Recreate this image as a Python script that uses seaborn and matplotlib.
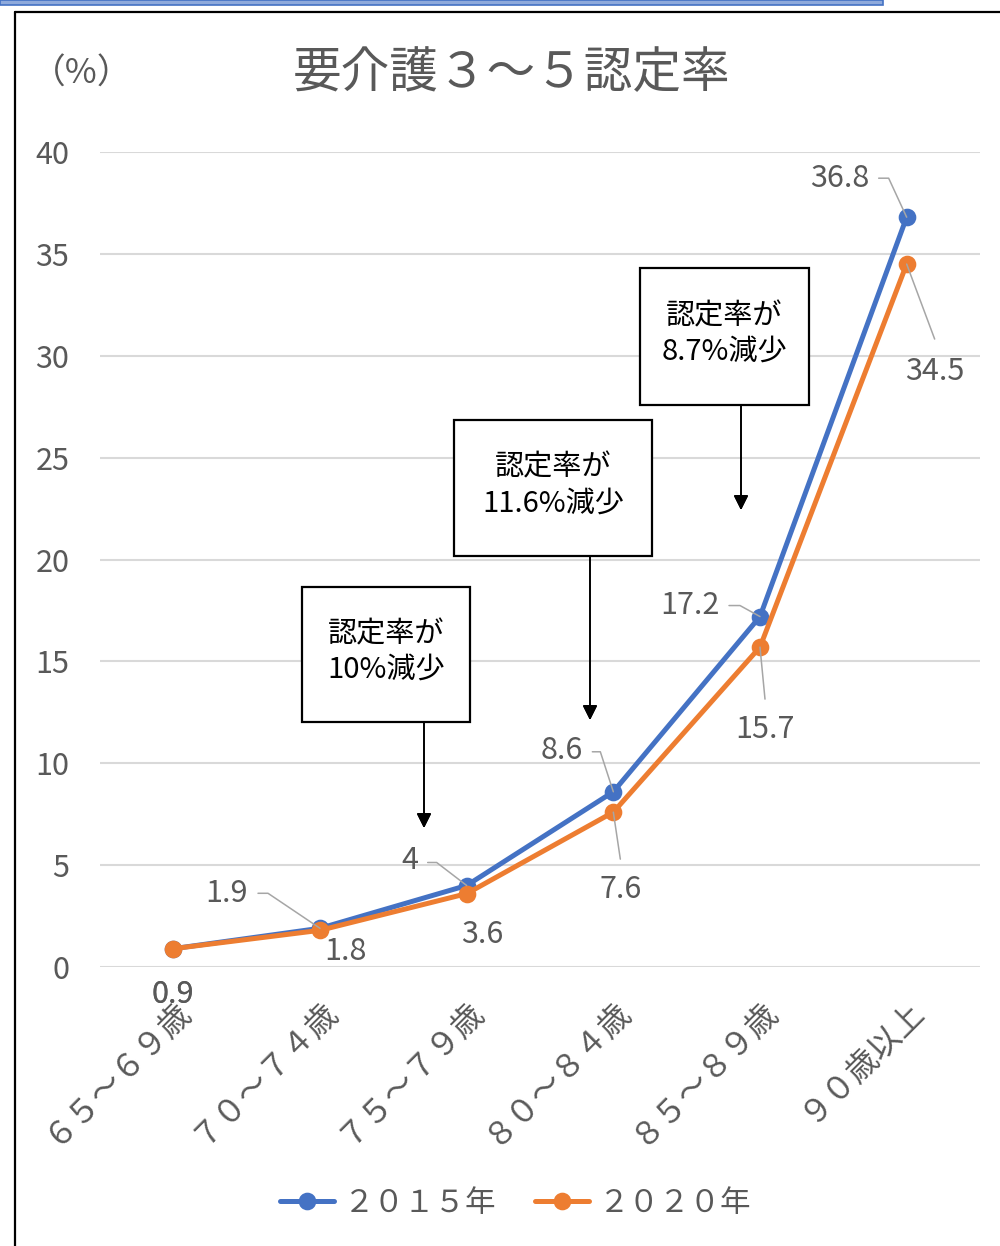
import numpy as np
import pandas as pd
import matplotlib
matplotlib.use('Agg')
import matplotlib.pyplot as plt
import matplotlib.patches as mpatches
import matplotlib.transforms as mtransforms
from matplotlib.lines import Line2D
import seaborn as sns

# data
ages = ['６５～６９歳', '７０～７４歳', '７５～７９歳', '８０～８４歳', '８５～８９歳', '９０歳以上']
years = ['２０１５年', '２０２０年']
rate_2015 = [0.9, 1.9, 4.0, 8.6, 17.2, 36.8]
rate_2020 = [0.9, 1.8, 3.6, 7.6, 15.7, 34.5]
label_2015 = ['0.9', '1.9', '4', '8.6', '17.2', '36.8']
label_2020 = ['0.9', '1.8', '3.6', '7.6', '15.7', '34.5']
y_ticks = [0, 5, 10, 15, 20, 25, 30, 35, 40]
notes = ['認定率が\n10%減少', '認定率が\n11.6%減少', '認定率が\n8.7%減少']

BLUE = '#4472C4'
ORANGE = '#ED7D31'
GRAY = '#595959'
LEAD = '#a6a6a6'
W, H = 1000, 1246

df = pd.DataFrame({
    'age': ages * 2,
    'rate': rate_2015 + rate_2020,
    'year': [years[0]] * len(ages) + [years[1]] * len(ages),
})

sns.set_style('white')
plt.rcParams['font.family'] = ['Noto Sans CJK JP', 'DejaVu Sans']


def fp(x, y):
    # pixel position -> figure fraction
    return x / W, 1 - y / H


fig = plt.figure(figsize=(10, 12.46), dpi=100)
ax = fig.add_axes([0.1, 1 - 967 / H, 0.88, (967 - 152) / H])

sns.pointplot(data=df, x='age', y='rate', hue='year', palette=[BLUE, ORANGE],
              markers='o', linestyles='-', errorbar=None, ax=ax,
              markersize=10, linewidth=3.6)

ax.set_xlim(-0.5, len(ages) - 0.5)
ax.set_ylim(0, 40)
ax.set_yticks(y_ticks)
ax.yaxis.grid(True, color='#d9d9d9', lw=1.5)
ax.xaxis.grid(False)
ax.set_axisbelow(True)
for s in ax.spines.values():
    s.set_visible(False)
ax.set_xlabel('')
ax.set_ylabel('')
ax.tick_params(axis='y', length=0, pad=22, labelsize=22, labelcolor=GRAY)
ax.tick_params(axis='x', length=0, pad=19, labelsize=23, labelcolor=GRAY)
for lbl in ax.get_xticklabels():
    lbl.set_rotation(45)
    lbl.set_ha('right')
    lbl.set_rotation_mode('anchor')

# data labels: text offset from point (pixels, y down) and leader polyline offsets
off_2015 = [(-1, 46), (-93, -35), (-57, -25), (-52, -41), (-70, -11), (-67, -39)]
off_2020 = [(-1, 46), (25, 21), (16, 41), (7, 77), (5, 82), (28, 107)]
lead_2015 = [None, [(-62, -35), (-52, -35), (0, 0)], [(-39, -23), (-30, -23), (0, 0)],
             [(-21, -40), (-13, -40), (0, 0)], [(-31, -11), (-20, -11), (0, 0)],
             [(-28, -39), (-18, -39), (0, 0)]]
lead_2020 = [None, None, None, [(0, 0), (7, 47)], [(0, 0), (5, 52)], [(0, 0), (28, 75)]]

ident = mtransforms.IdentityTransform()
for vals, texts, offs, leads in [(rate_2015, label_2015, off_2015, lead_2015),
                                 (rate_2020, label_2020, off_2020, lead_2020)]:
    for i, (v, t, o, ld) in enumerate(zip(vals, texts, offs, leads)):
        ax.annotate(t, xy=(i, v), xytext=(o[0], -o[1]), textcoords='offset pixels',
                    ha='center', va='center', fontsize=22, color=GRAY, zorder=5)
        if ld:
            px, py = ax.transData.transform((i, v))
            xs = [px + dx for dx, dy in ld]
            ys = [py - dy for dx, dy in ld]
            fig.add_artist(Line2D(xs, ys, transform=ident, color=LEAD, lw=1.1, zorder=4))

# legend
handles, labels = ax.get_legend_handles_labels()
if ax.get_legend() is not None:
    ax.get_legend().remove()
fig.legend(handles, labels, loc='center', bbox_to_anchor=fp(516, 1203), ncol=2,
           frameon=False, fontsize=22, labelcolor=GRAY, handlelength=1.75,
           handletextpad=0.35, columnspacing=1.25)

# title
fig.text(*fp(512, 73), '要介護３～５認定率', ha='center', va='center', fontsize=35, color=GRAY)
fig.text(*fp(82, 74), '（%）', ha='center', va='center', fontsize=25, color=GRAY)

# note boxes with arrows
boxes = [(302, 587, 470, 722), (454, 420, 652, 556), (640, 268, 809, 405)]
arrows = [(424, 708, 828), (590, 542, 720), (741, 390, 510)]
for (x0, y0, x1, y1), txt, (ax_, ay0, ay1) in zip(boxes, notes, arrows):
    fx0, fy1 = fp(x0, y1)
    fx1, fy0 = fp(x1, y0)
    fig.add_artist(mpatches.Rectangle((fx0, fy1), fx1 - fx0, fy0 - fy1, transform=fig.transFigure,
                                      facecolor='white', edgecolor='black', lw=1.6, zorder=6))
    fig.text((fx0 + fx1) / 2, (fy0 + fy1) / 2 + 0.002, txt, ha='center', va='center',
             fontsize=21, color='black', linespacing=1.25, zorder=7)
    fig.add_artist(plt.annotate('', xy=fp(ax_, ay1), xytext=fp(ax_, ay0), xycoords='figure fraction',
                                textcoords='figure fraction',
                                arrowprops=dict(arrowstyle='-|>', color='black', lw=1.2,
                                                mutation_scale=22, shrinkA=0, shrinkB=0)))

# chart frame and top strip
fig.add_artist(Line2D([15 / W, 15 / W], [0, 1 - 12 / H], transform=fig.transFigure, color='black', lw=1.6))
fig.add_artist(Line2D([15 / W, 1], [1 - 12 / H, 1 - 12 / H], transform=fig.transFigure, color='black', lw=1.6))
fig.add_artist(mpatches.Rectangle((0, 1 - 5 / H), 883 / W, 5 / H, transform=fig.transFigure,
                                  facecolor='#8FAADC', edgecolor='#4472C4', lw=1.2))

fig.savefig('out.png', dpi=100)
